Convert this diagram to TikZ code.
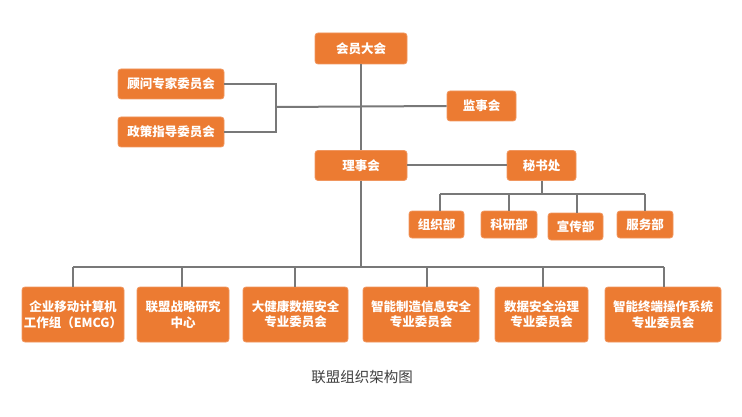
\documentclass[tikz,border=0pt]{standalone}
\usepackage{fontspec}
\usepackage{xcolor}
\usepackage{tikz}
\usetikzlibrary{positioning}
\newfontfamily\cjk{Noto Sans CJK SC}
\definecolor{boxfill}{RGB}{236,123,50}
\definecolor{boxedge}{RGB}{240,150,95}
\definecolor{linkgray}{RGB}{120,120,120}
\definecolor{captiongray}{RGB}{64,64,64}
\def\topY{48.5}
\def\midY{165.5}
\def\depY{224.5}
\def\botY{314.5}
\def\busY{267}
\def\secBusY{194}

\begin{document}
\begin{tikzpicture}[
    x=1pt, y=-1pt,
    line width=2pt,
    every node/.style={font=\cjk\bfseries\fontsize{12.5}{15.5}\selectfont, text=white, align=center},
    orgbox/.style={rectangle, rounded corners=3pt, fill=boxfill, draw=boxedge, line width=0.8pt, inner sep=0pt},
    link/.style={draw=linkgray, line width=2pt}
]
\useasboundingbox (0,0) rectangle (742,417);

% top part
\node[orgbox, minimum width=92pt, minimum height=31pt] (hui) at (361,\topY) {会员大会};
\node[orgbox, minimum width=106pt, minimum height=30pt] (guwen) at (171,84) {顾问专家委员会};
\node[orgbox, minimum width=106pt, minimum height=30pt] (zhengce) at (171,132) {政策指导委员会};
\node[orgbox, minimum width=69pt, minimum height=30pt] (jianshi) at (481.5,106) {监事会};
\node[orgbox, minimum width=92pt, minimum height=30pt] (lishi) at (361,\midY) {理事会};
\node[orgbox, minimum width=69pt, minimum height=30pt] (mishu) at (541.5,\midY) {秘书处};

% departments
\node[orgbox, minimum width=55pt, minimum height=27pt] (zuzhi) at (436.5,\depY) {组织部};
\node[orgbox, minimum width=56pt, minimum height=27pt] (keyan) at (509,\depY) {科研部};
\node[orgbox, minimum width=55pt, minimum height=27pt] (xuanchuan) at (575.5,226.5) {宣传部};
\node[orgbox, minimum width=56pt, minimum height=27pt] (fuwu) at (645,\depY) {服务部};

% committees
\node[orgbox, minimum width=102pt, minimum height=55pt] (emcg) at (73,\botY) {企业移动计算机\\工作组（EMCG）};
\node[orgbox, minimum width=92pt, minimum height=55pt] (zhanlue) at (183,\botY) {联盟战略研究\\中心};
\node[orgbox, minimum width=105pt, minimum height=55pt] (jiankang) at (295.5,\botY) {大健康数据安全\\专业委员会};
\node[orgbox, minimum width=116pt, minimum height=55pt] (zhizao) at (421,\botY) {智能制造信息安全\\专业委员会};
\node[orgbox, minimum width=93pt, minimum height=55pt] (zhili) at (541.5,\botY) {数据安全治理\\专业委员会};
\node[orgbox, minimum width=116pt, minimum height=55pt] (zhongduan) at (663,\botY) {智能终端操作系统\\专业委员会};

\node[font=\cjk\fontsize{14.5}{16}\selectfont, text=captiongray] (title) at (362,377) {联盟组织架构图};

% links
\coordinate (brk) at (276,107);
\draw[link] (hui) -- (lishi);
\draw[link] (guwen.east) -| (brk) |- (zhengce.east);
\draw[link] (brk) -- (jianshi.west);
\draw[link] (lishi) -- (mishu);

\coordinate (sec) at (541.5,\secBusY);
\draw[link] (mishu) -- (sec);
\draw[link] (440,\secBusY) -- (645,\secBusY);
\foreach \d/\x in {zuzhi/440, keyan/509, xuanchuan/577, fuwu/645}
  \draw[link] (\x,\secBusY) -- (\d.north -| \x,0);

\coordinate (bus) at (361,\busY);
\draw[link] (lishi) -- (bus);
\draw[link] (73,\busY) -- (664,\busY);
\foreach \c/\x in {emcg/73, zhanlue/182, jiankang/295, zhizao/427, zhili/543, zhongduan/664}
  \draw[link] (\x,\busY) -- (\c.north -| \x,0);
\end{tikzpicture}
\end{document}
